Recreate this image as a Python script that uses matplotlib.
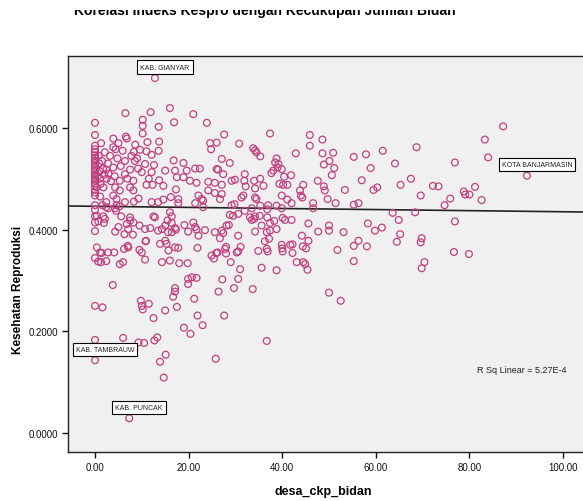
import matplotlib
matplotlib.use("Agg")
import matplotlib.pyplot as plt
from matplotlib.patches import Rectangle
import numpy as np

plt.rcParams['font.family'] = ['Liberation Sans', 'DejaVu Sans']

# desa_ckp_bidan (x) vs Kesehatan Reproduksi index (y), one point per district
desa_ckp_bidan = [
    # upper band
    12.8, 6.5, 11.9, 16.0, 21.0, 0.0, 10.2, 10.2, 10.2, 16.9, 13.6, 23.9,
    0.0, 6.6, 6.8, 3.9, 1.3, 13.7, 27.6, 24.6, 24.8, 26.0, 30.8, 33.8, 34.2, 34.5, 35.3,
    37.4, 45.9, 45.9, 48.6, 0.0, 3.9, 4.4, 5.9, 8.3, 9.6, 11.0, 13.6, 2.1,
    42.9, 48.6, 50.9, 55.3, 57.9, 61.5, 68.7, 87.2, 83.3, 84.0, 76.9, 92.3,
    # dense block left of 20
    12.1, 6.4, 8.5, 16.8, 10.7, 12.6, 3.9, 7.5, 15.0, 17.1, 2.4, 6.4, 10.0, 12.1,
    1.1, 2.5, 5.3, 8.2, 13.7, 11.0, 12.3, 14.6, 0.4, 1.8, 4.3, 7.5, 17.3, 5.3, 8.2,
    0.0, 1.1, 3.9, 4.6, 9.3, 12.1, 13.5, 14.6, 16.2, 17.8, 0.0, 1.6, 4.6, 2.4, 6.4, 8.3,
    # zero column and its neighbours
    0.0, 0.0, 0.0, 0.0, 0.0, 0.0, 0.0, 0.0, 0.0, 0.0, 0.0, 0.0, 0.0, 0.0, 0.0, 0.0, 0.0,
    0.8, 0.9, 1.0, 0.6, 1.2, 1.5, 1.7, 2.0, 2.8, 3.2, 2.9, 3.4, 4.8, 5.5, 4.2, 6.9,
    9.2, 9.0, 11.5, 7.8, 5.0, 8.6, 11.2,
    # block 17-40
    27.1, 28.8, 18.9, 38.8, 38.5, 39.2, 38.1, 37.7, 39.9, 19.6, 21.4, 22.4, 26.0, 26.3,
    27.4, 32.0, 17.5, 18.9, 20.3, 21.7, 24.2, 25.6, 27.1, 29.2, 29.9, 31.9, 32.2, 34.0,
    35.3, 36.0, 24.2, 27.1, 25.6, 34.2, 22.1, 22.8, 26.7, 31.7, 31.3, 34.2, 34.5, 39.9,
    # 40-92 middle
    39.0, 50.1, 48.9, 51.1, 50.6, 64.1, 58.9, 40.4, 41.9, 39.4, 40.2, 41.1, 44.5, 47.6,
    48.9, 49.1, 53.4, 57.0, 59.5, 60.3, 65.3, 67.5, 72.2, 73.4, 69.6, 75.9, 74.7, 42.0,
    41.1, 43.8, 44.0, 44.3, 46.6, 46.6, 49.7, 51.4, 55.3, 56.3, 36.8,
    81.2, 78.8, 79.1, 80.0, 82.6, 76.9, 76.7, 79.9,
    # just under the fit line
    0.0, 2.4, 2.8, 4.3, 5.3, 4.5, 0.0, 0.4, 1.8, 2.1, 0.0, 0.7, 1.9, 0.0, 5.6, 7.5, 7.5,
    6.8, 7.1, 8.1, 6.3, 5.0, 4.3, 8.2, 9.5, 10.7, 11.8, 12.5, 12.8, 10.9, 13.5, 14.3,
    15.0, 16.4, 17.1, 16.0, 16.4, 15.5, 16.4, 15.6,
    17.8, 21.4, 23.1, 23.1, 29.2, 29.8, 33.5, 35.3, 37.0, 38.8, 39.9,
    28.8, 29.5, 30.6, 32.0, 33.1, 33.5, 34.0, 34.2, 35.2, 36.8, 37.4, 38.3, 40.1, 40.6, 42.0,
    19.1, 19.9, 21.0, 21.4, 21.7, 22.1, 23.5, 17.3, 25.6, 27.1, 27.4, 26.7, 28.1, 28.6,
    30.6, 34.2, 35.6, 36.7, 37.4, 38.8,
    45.6, 50.0, 50.0, 47.7, 53.1, 58.3, 59.8, 61.3, 65.2, 64.5, 69.8, 69.6, 63.6, 64.9, 68.4,
    # lower band
    36.3, 37.2, 39.9, 41.7, 42.2, 44.2, 45.6, 44.4, 45.1, 56.3, 55.3, 58.1, 51.8,
    34.9, 36.7, 36.9, 40.0, 40.1, 42.2, 35.6, 38.8, 43.1, 44.5, 44.9, 45.4, 55.3, 70.4,
    69.8, 33.7, 50.0, 52.5, 36.7,
    10.8, 0.4, 1.1, 1.4, 2.8, 4.1, 0.0, 0.7, 1.3, 2.4, 5.3, 6.0, 6.2, 7.1, 7.0, 9.5,
    10.0, 10.7, 13.9, 14.3, 15.0, 15.3, 15.7, 16.0, 17.1, 17.8, 18.0, 19.8, 21.9,
    24.9, 25.4, 25.9, 28.0, 28.0, 29.0, 30.3, 31.0, 31.1, 26.2, 27.8, 30.6,
    3.8, 19.9, 20.7, 21.7, 19.9, 17.1, 17.1, 16.7, 17.5, 27.2, 30.6, 26.4, 29.7, 21.2,
    0.0, 1.6, 9.8, 10.0, 10.2, 11.5, 15.0, 12.5, 21.9, 23.0, 27.6, 19.0, 20.4,
    0.0, 6.0, 9.3, 10.5, 12.7, 13.3, 0.0, 13.9, 15.1, 14.7, 25.8, 7.3,
]

kesehatan_reproduksi = [
    0.698, 0.629, 0.631, 0.639, 0.627, 0.610, 0.616, 0.604, 0.589, 0.611, 0.602, 0.610,
    0.586, 0.583, 0.579, 0.579, 0.570, 0.573, 0.587, 0.570, 0.558, 0.571, 0.569, 0.560, 0.556, 0.552, 0.544,
    0.589, 0.586, 0.565, 0.577, 0.565, 0.562, 0.558, 0.555, 0.553, 0.557, 0.554, 0.555, 0.552,
    0.550, 0.550, 0.551, 0.543, 0.548, 0.555, 0.562, 0.603, 0.577, 0.542, 0.532, 0.506,
    0.547, 0.535, 0.535, 0.536, 0.529, 0.527, 0.522, 0.518, 0.516, 0.516, 0.518, 0.509, 0.513, 0.513,
    0.500, 0.500, 0.496, 0.496, 0.497, 0.488, 0.488, 0.486, 0.483, 0.483, 0.483, 0.483, 0.479, 0.477, 0.477,
    0.467, 0.465, 0.467, 0.460, 0.461, 0.454, 0.454, 0.459, 0.464, 0.460, 0.448, 0.448, 0.448, 0.454, 0.454, 0.455,
    0.558, 0.552, 0.546, 0.541, 0.536, 0.531, 0.526, 0.521, 0.516, 0.511, 0.506, 0.501, 0.496, 0.491, 0.486, 0.478, 0.473,
    0.545, 0.530, 0.515, 0.505, 0.490, 0.535, 0.520, 0.508, 0.530, 0.545, 0.510, 0.495, 0.540, 0.525, 0.505, 0.500,
    0.520, 0.540, 0.500, 0.545, 0.570, 0.567, 0.572,
    0.539, 0.531, 0.531, 0.540, 0.532, 0.529, 0.516, 0.511, 0.519, 0.516, 0.520, 0.520, 0.519, 0.518,
    0.509, 0.509, 0.503, 0.503, 0.496, 0.492, 0.494, 0.492, 0.488, 0.496, 0.498, 0.496, 0.485, 0.496,
    0.500, 0.486, 0.477, 0.470, 0.472, 0.481, 0.467, 0.460, 0.460, 0.467, 0.463, 0.463, 0.460, 0.467,
    0.522, 0.535, 0.528, 0.521, 0.507, 0.530, 0.521, 0.504, 0.507, 0.490, 0.488, 0.488, 0.488, 0.496,
    0.485, 0.477, 0.478, 0.497, 0.478, 0.483, 0.488, 0.500, 0.486, 0.485, 0.467, 0.461, 0.448, 0.452,
    0.459, 0.477, 0.467, 0.463, 0.452, 0.442, 0.460, 0.452, 0.449, 0.452, 0.440,
    0.484, 0.475, 0.469, 0.469, 0.458, 0.416, 0.356, 0.352,
    0.439, 0.444, 0.442, 0.442, 0.446, 0.437, 0.426, 0.427, 0.426, 0.421, 0.414, 0.416, 0.413, 0.397, 0.426, 0.424, 0.418,
    0.411, 0.401, 0.390, 0.391, 0.405, 0.396, 0.414, 0.408, 0.401, 0.403, 0.426, 0.424, 0.378, 0.398, 0.401,
    0.408, 0.413, 0.403, 0.434, 0.426, 0.418, 0.395, 0.395,
    0.452, 0.452, 0.457, 0.444, 0.448, 0.450, 0.442, 0.447, 0.448, 0.447, 0.442,
    0.429, 0.427, 0.431, 0.437, 0.424, 0.419, 0.421, 0.426, 0.427, 0.424, 0.413, 0.417, 0.423, 0.419, 0.419,
    0.409, 0.396, 0.414, 0.405, 0.400, 0.388, 0.399, 0.400, 0.395, 0.398, 0.393, 0.383, 0.408, 0.409,
    0.388, 0.396, 0.408, 0.395, 0.398, 0.401,
    0.412, 0.408, 0.398, 0.396, 0.395, 0.412, 0.398, 0.404, 0.391, 0.376, 0.383, 0.375, 0.433, 0.419, 0.434,
    0.377, 0.382, 0.370, 0.370, 0.371, 0.388, 0.378, 0.367, 0.363, 0.378, 0.368, 0.367, 0.360,
    0.358, 0.362, 0.357, 0.363, 0.357, 0.354, 0.325, 0.320, 0.336, 0.336, 0.332, 0.321, 0.338, 0.336,
    0.324, 0.283, 0.276, 0.260, 0.181,
    0.377, 0.365, 0.355, 0.354, 0.355, 0.355, 0.344, 0.337, 0.336, 0.338, 0.332, 0.336, 0.362, 0.365, 0.368, 0.360,
    0.355, 0.341, 0.372, 0.336, 0.378, 0.372, 0.359, 0.339, 0.365, 0.364, 0.334, 0.334, 0.364,
    0.349, 0.343, 0.354, 0.366, 0.353, 0.336, 0.355, 0.322, 0.366, 0.355, 0.362, 0.357,
    0.291, 0.303, 0.306, 0.305, 0.293, 0.285, 0.278, 0.268, 0.248, 0.302, 0.303, 0.278, 0.285, 0.264,
    0.250, 0.247, 0.260, 0.250, 0.243, 0.254, 0.241, 0.226, 0.231, 0.212, 0.231, 0.207, 0.195,
    0.183, 0.187, 0.178, 0.177, 0.182, 0.188, 0.143, 0.140, 0.154, 0.109, 0.146, 0.029,
]

# labelled districts
labelled = {
    'KAB. GIANYAR': (12.8, 0.698),
    'KOTA BANJARMASIN': (92.3, 0.506),
    'KAB. TAMBRAUW': (0.0, 0.143),
    'KAB. PUNCAK': (7.3, 0.029),
}

# linear fit
fit_intercept = 0.4458
fit_slope = -0.000107
r_sq = '5.27E-4'

x_ticks = [0, 20, 40, 60, 80, 100]
y_ticks = [0.0, 0.2, 0.4, 0.6]

W, H = 583, 502
fig = plt.figure(figsize=(W / 100, H / 100), dpi=100)
ax = fig.add_axes([68.3 / W, (H - 452.7) / H, (586.4 - 68.3) / W, (452.7 - 57.3) / H])
ax.set_facecolor('#f0f0f0')

ax.scatter(desa_ckp_bidan, kesehatan_reproduksi, s=24, facecolors='none',
           edgecolors='#c0407f', linewidths=0.9, zorder=3)

x0, x1 = -5.705, 105.0
ax.set_xlim(x0, x1)
ax.set_ylim(-0.0368, 0.7408)
xs = np.array([x0, x1])
ax.plot(xs, fit_intercept + fit_slope * xs, color='#222222', lw=1.2, zorder=2)

for name, (px, py) in labelled.items():
    ax.annotate(name, (px, py), xytext=(7.2, 7.9), textcoords='offset points',
                ha='center', va='center', fontsize=5, color='#222222', zorder=5,
                bbox=dict(boxstyle='square,pad=0.45', fc='white', ec='black', lw=0.8))

ax.text(0.875, 0.207, 'R Sq Linear = ' + r_sq, transform=ax.transAxes,
        fontsize=6.5, ha='center', va='center', color='#222222')

ax.set_xticks(x_ticks)
ax.set_xticklabels([f'{v:.2f}' for v in x_ticks])
ax.set_yticks(y_ticks)
ax.set_yticklabels([f'{v:.4f}' for v in y_ticks])
ax.tick_params(direction='out', length=4.5, width=1.0, labelsize=7, colors='#111111', pad=3)
for side in ax.spines.values():
    side.set_color('#222222')
    side.set_linewidth(1.0)

fig.text(323 / W, 1 - 492 / H, 'desa_ckp_bidan', ha='center', va='center',
         fontsize=9, fontweight='bold')
fig.text(18 / W, 1 - 290 / H, 'Kesehatan Reproduksi', ha='center', va='center',
         rotation=90, fontsize=8.5, fontweight='bold')

fig.text(265 / W, 1 - 15.5 / H, 'Korelasi Indeks Kespro dengan Kecukupan Jumlah Bidan',
         ha='center', va='baseline', fontsize=10, fontweight='bold', zorder=3)
# the title sits partly under the top edge of the canvas
fig.add_artist(Rectangle((0, 1 - 10.5 / H), 1, 10.5 / H, transform=fig.transFigure,
                         facecolor='white', edgecolor='none', zorder=10))

fig.savefig('out.png', dpi=100)
